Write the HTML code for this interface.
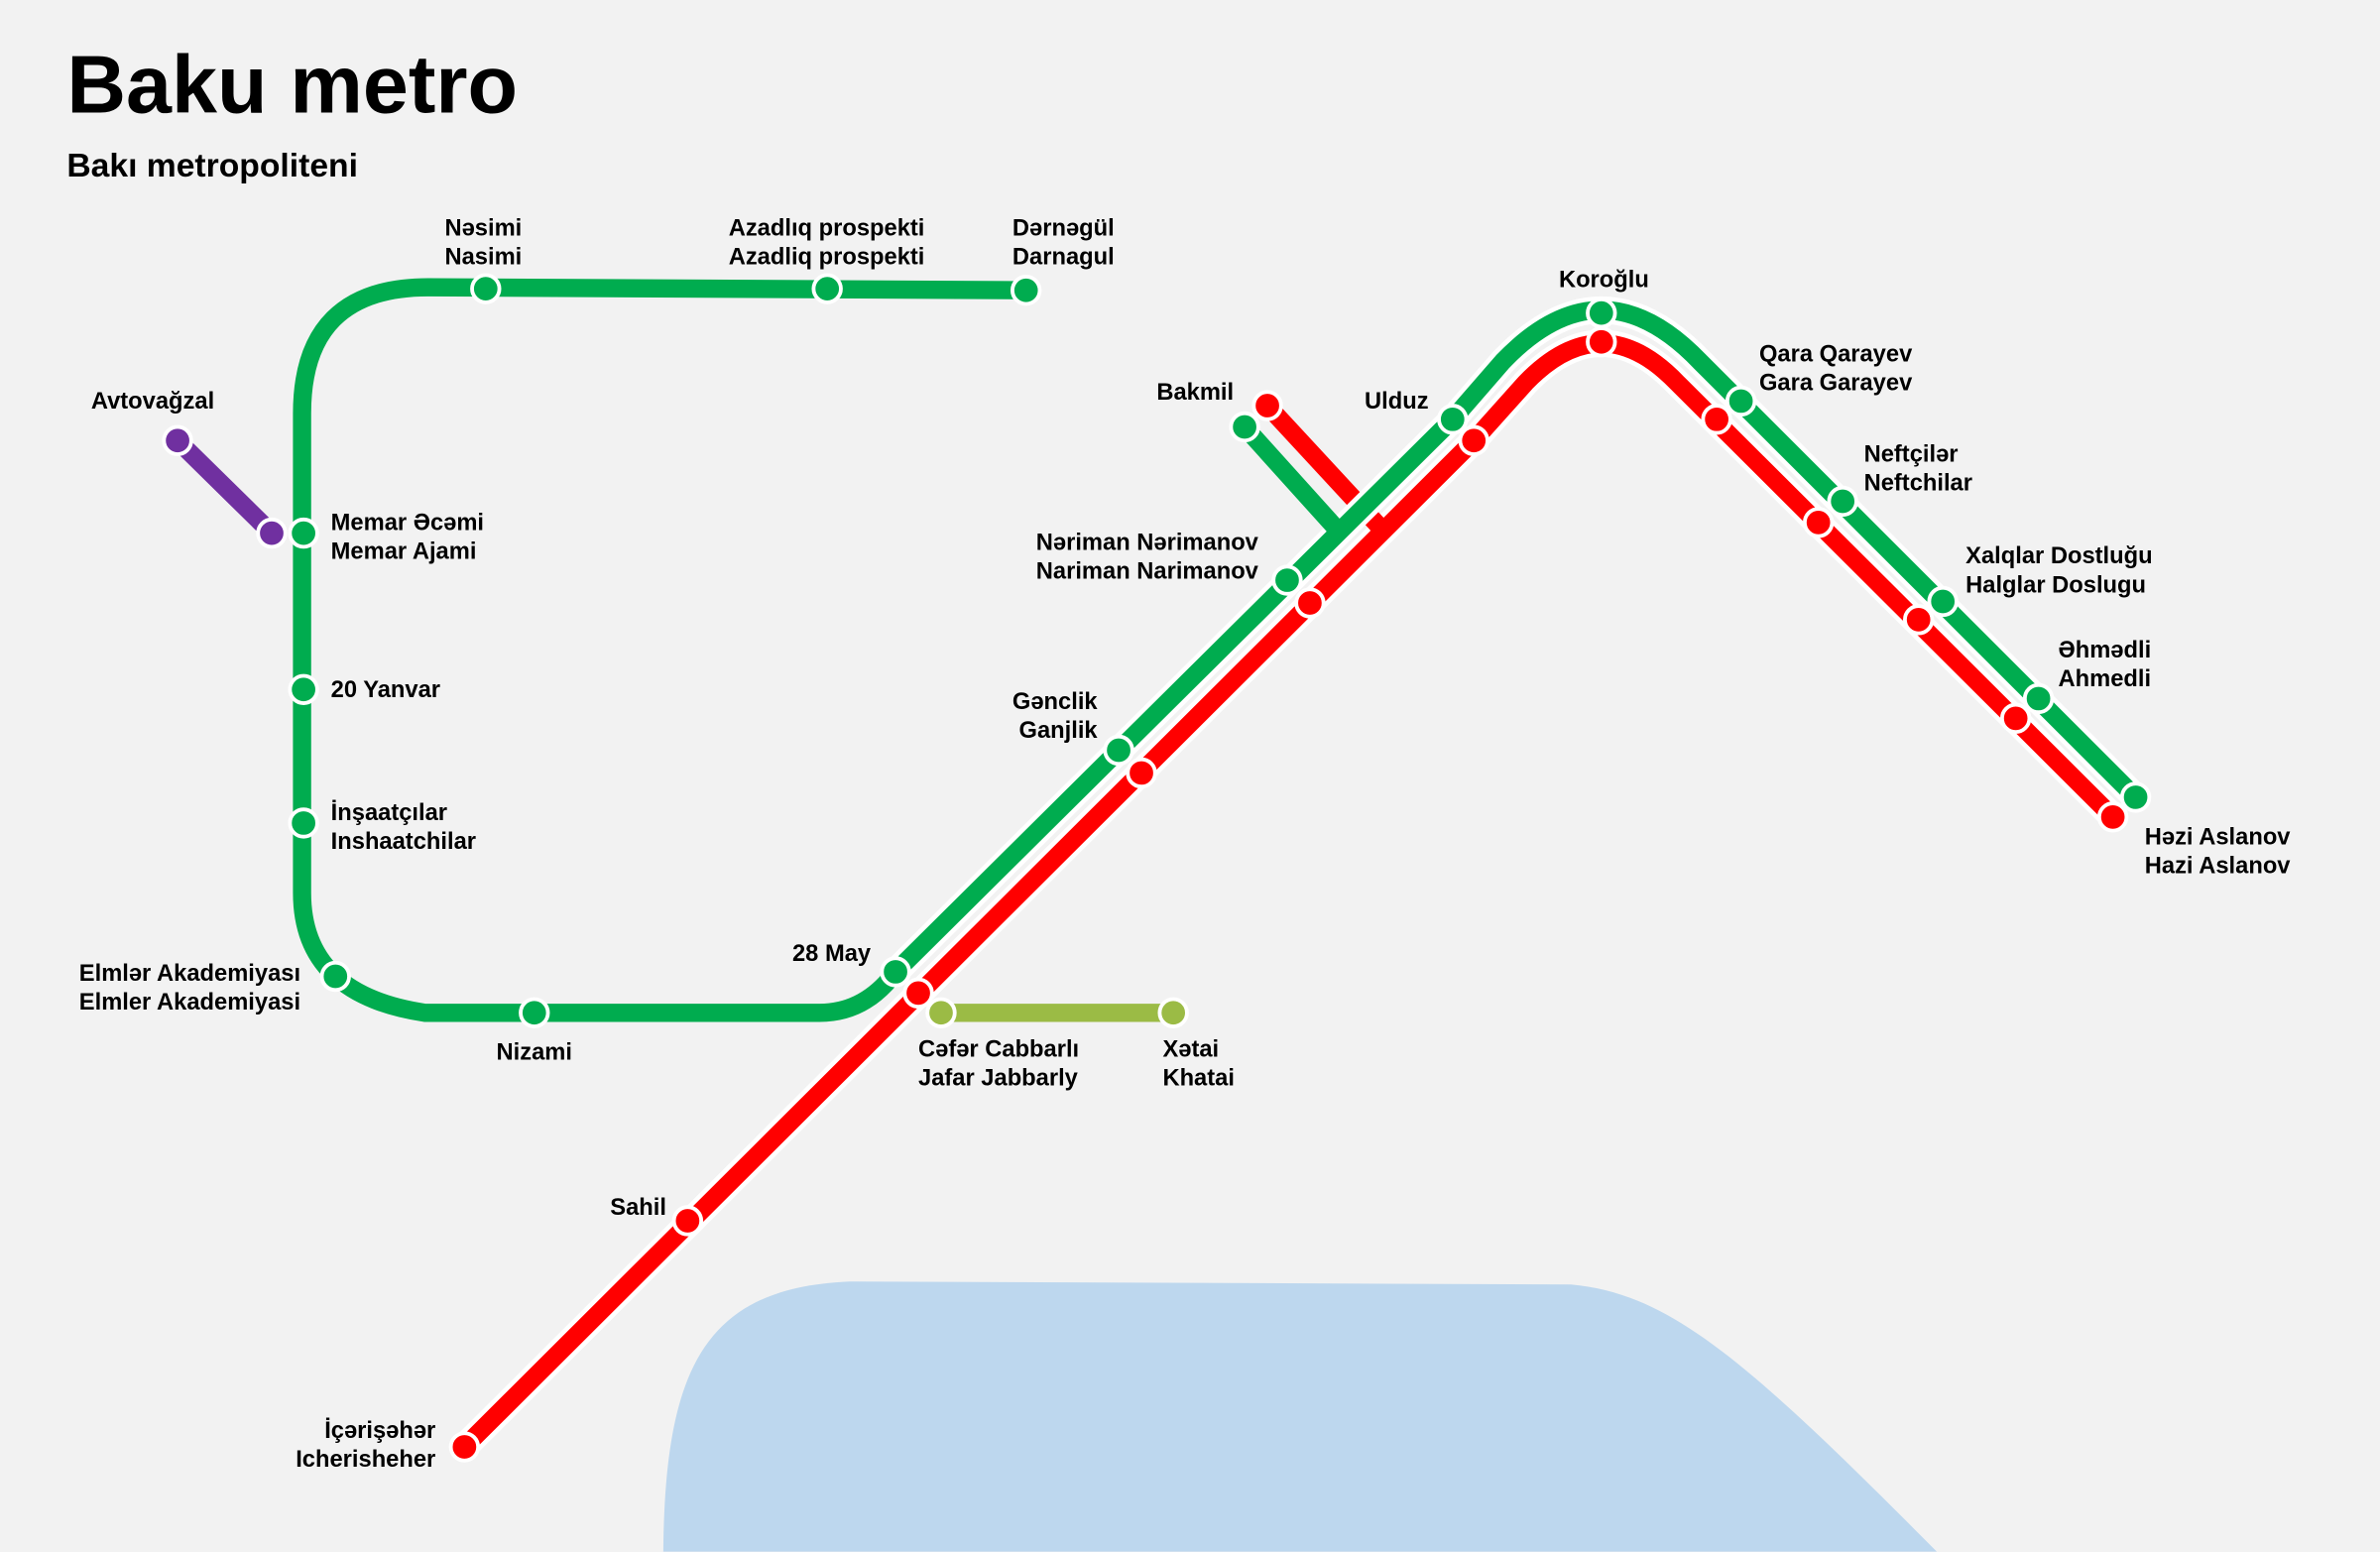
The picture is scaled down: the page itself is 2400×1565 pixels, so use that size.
<!DOCTYPE html>
<html><head><meta charset="utf-8"><style>
html,body{margin:0;padding:0;background:#f2f2f2;}
svg{display:block;}
text{font-family:"Liberation Sans",sans-serif;font-weight:bold;fill:#000;}
.l{font-size:15.5px;}
</style></head><body>
<svg width="2400" height="1565" viewBox="0 0 1568 1022" xmlns="http://www.w3.org/2000/svg">
<rect width="1568" height="1022" fill="#f2f2f2"/>
<path d="M437,1022 C438,900 465,848 560,844 L1035,846 C1100,852 1150,895 1276,1022 Z" fill="#bdd7ee"/>
<text x="44" y="74" style="font-size:54px">Baku metro</text>
<text x="44" y="116" style="font-size:22px">Bakı metropoliteni</text>
<g fill="none" stroke-width="12">
<path d="M676,191 L282,189 Q199,189 199,272 L199,588 Q199,655 280,667 L540,667 Q570,667 590,640" stroke="#00ac4f"/>
<path d="M117,290 L179,351" stroke="#7030a0"/>
<path d="M620,667 L773,667" stroke="#9bbb45"/>
<path d="M306,953 L971,290 L1005,252 Q1055,200 1105,252 L1392,538" stroke="#fff" stroke-width="18"/>
<path d="M306,953 L971,290 L1005,252 Q1055,200 1105,252 L1392,538" stroke="#f00"/>
<path d="M835,267 L910,348" stroke="#f00"/>
<path d="M590,640 L957,276 L990,238 Q1055,170 1120,238 L1407,525" stroke="#fff" stroke-width="18"/>
<path d="M590,640 L957,276 L990,238 Q1055,170 1120,238 L1407,525" stroke="#00ac4f"/>
<path d="M820,281 L884,352" stroke="#00ac4f"/>
</g>
<g stroke="#fff" stroke-width="2.5">
<g fill="#00ac4f">
<circle cx="676" cy="191" r="9"/><circle cx="545" cy="190" r="9"/><circle cx="320" cy="190" r="9"/>
<circle cx="200" cy="351" r="9"/><circle cx="200" cy="454" r="9"/><circle cx="200" cy="542" r="9"/>
<circle cx="221" cy="643" r="9"/><circle cx="352" cy="667" r="9"/><circle cx="590" cy="640" r="9"/>
<circle cx="737" cy="494" r="9"/><circle cx="848" cy="382" r="9"/><circle cx="957" cy="276" r="9"/>
<circle cx="1055" cy="206" r="9"/><circle cx="1147" cy="264" r="9"/><circle cx="1214" cy="330" r="9"/>
<circle cx="1280" cy="396" r="9"/><circle cx="1343" cy="460" r="9"/><circle cx="1407" cy="525" r="9"/>
<circle cx="820" cy="281" r="9"/>
</g>
<g fill="#f00">
<circle cx="306" cy="953" r="9"/><circle cx="453" cy="804" r="9"/><circle cx="605" cy="654" r="9"/>
<circle cx="752" cy="509" r="9"/><circle cx="863" cy="397" r="9"/><circle cx="971" cy="290" r="9"/>
<circle cx="1055" cy="225" r="9"/><circle cx="1131" cy="276" r="9"/><circle cx="1198" cy="344" r="9"/>
<circle cx="1264" cy="408" r="9"/><circle cx="1328" cy="473" r="9"/><circle cx="1392" cy="538" r="9"/>
<circle cx="835" cy="267" r="9"/>
</g>
<circle cx="117" cy="290" r="9" fill="#7030a0"/><circle cx="179" cy="351" r="9" fill="#7030a0"/>
<circle cx="620" cy="667" r="9" fill="#9bbb45"/><circle cx="773" cy="667" r="9" fill="#9bbb45"/>
</g>
<g class="l">
<text x="293" y="155">Nəsimi</text><text x="293" y="174">Nasimi</text>
<text x="480" y="155">Azadlıq prospekti</text><text x="480" y="174">Azadliq prospekti</text>
<text x="667" y="155">Dərnəgül</text><text x="667" y="174">Darnagul</text>
<text x="60" y="269">Avtovağzal</text>
<text x="218" y="349">Memar Əcəmi</text><text x="218" y="368">Memar Ajami</text>
<text x="218" y="459">20 Yanvar</text>
<text x="218" y="540">İnşaatçılar</text><text x="218" y="559">Inshaatchilar</text>
<text x="198" y="646" text-anchor="end">Elmlər Akademiyası</text><text x="198" y="665" text-anchor="end">Elmler Akademiyasi</text>
<text x="327" y="698">Nizami</text>
<text x="522" y="633">28 May</text>
<text x="605" y="696">Cəfər Cabbarlı</text><text x="605" y="715">Jafar Jabbarly</text>
<text x="766" y="696">Xətai</text><text x="766" y="715">Khatai</text>
<text x="402" y="800">Sahil</text>
<text x="287" y="947" text-anchor="end">İçərişəhər</text><text x="287" y="966" text-anchor="end">Icherisheher</text>
<text x="723" y="467" text-anchor="end">Gənclik</text><text x="723" y="486" text-anchor="end">Ganjlik</text>
<text x="829" y="362" text-anchor="end">Nəriman Nərimanov</text><text x="829" y="381" text-anchor="end">Nariman Narimanov</text>
<text x="762" y="263">Bakmil</text>
<text x="899" y="269">Ulduz</text>
<text x="1027" y="189">Koroğlu</text>
<text x="1159" y="238">Qara Qarayev</text><text x="1159" y="257">Gara Garayev</text>
<text x="1228" y="304">Neftçilər</text><text x="1228" y="323">Neftchilar</text>
<text x="1295" y="371">Xalqlar Dostluğu</text><text x="1295" y="390">Halglar Doslugu</text>
<text x="1356" y="433">Əhmədli</text><text x="1356" y="452">Ahmedli</text>
<text x="1413" y="556">Həzi Aslanov</text><text x="1413" y="575">Hazi Aslanov</text>
</g>
</svg>
</body></html>
